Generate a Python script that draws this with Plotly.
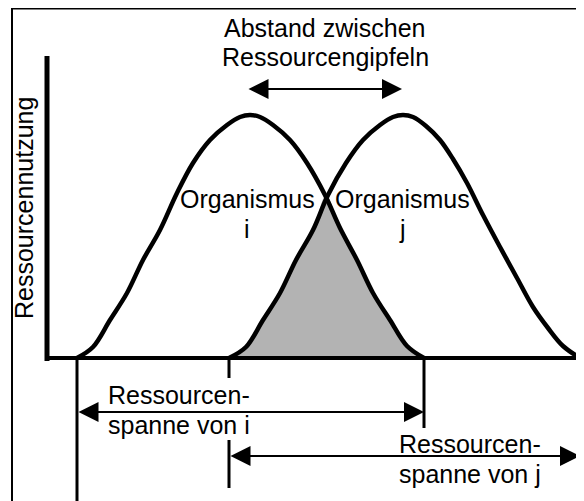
import plotly.graph_objects as go

# Resource-use curves (x = resource axis, y = usage height)
x_i = [77, 93, 110, 127, 143, 160, 177, 193, 210, 227, 240, 250, 260, 273, 290, 307, 325, 340, 357, 373, 390, 407, 424]
y_i = [0, 11, 38, 65, 98, 128, 165, 195, 218, 233, 241, 243, 241, 233, 218, 195, 163, 130, 98, 65, 38, 12, 0]

x_j = [229, 246, 263, 280, 296, 313, 328, 346, 363, 380, 393, 403, 413, 426, 440, 453, 467, 483, 500, 517, 533, 548, 563, 580]
y_j = [0, 11, 38, 65, 98, 128, 163, 195, 218, 233, 241, 243, 241, 232, 218, 199, 175, 143, 111, 80, 51, 30, 12, 0]

# where the two curves cross
x_cross = 326
y_cross = 162

FONT = dict(family="Liberation Sans, Arial, sans-serif", size=25, color="black")

# overlap region: left flank of j up to the crossing, then right flank of i
ov_x = [x for x in x_j if x < x_cross] + [x_cross] + [x for x in x_i if x > x_cross]
ov_y = [y for x, y in zip(x_j, y_j) if x < x_cross] + [y_cross] + [y for x, y in zip(x_i, y_i) if x > x_cross]

fig = go.Figure()

fig.add_trace(go.Scatter(
    x=ov_x, y=ov_y, mode="lines", fill="tozeroy", fillcolor="#b3b3b3",
    line=dict(color="rgba(0,0,0,0)", width=0, shape="spline"), hoverinfo="skip"
))
for xs, ys in [(x_i, y_i), (x_j, y_j)]:
    fig.add_trace(go.Scatter(
        x=xs, y=ys, mode="lines",
        line=dict(color="black", width=4.5, shape="spline", smoothing=1),
        hoverinfo="skip"
    ))

shapes = []
# axes
shapes.append(dict(type="line", x0=47, x1=47, y0=-3, y1=302, line=dict(color="black", width=5)))
shapes.append(dict(type="line", x0=45, x1=584, y0=0, y1=0, line=dict(color="black", width=4)))
# span markers dropping from the curve ends
thin = dict(color="black", width=3)
shapes.append(dict(type="line", x0=x_i[0], x1=x_i[0], y0=0, y1=-145, line=thin))
shapes.append(dict(type="line", x0=x_i[-1], x1=x_i[-1], y0=0, y1=-70, line=thin))
shapes.append(dict(type="line", x0=x_j[0], x1=x_j[0], y0=0, y1=-20, line=thin))
shapes.append(dict(type="line", x0=x_j[0], x1=x_j[0], y0=-82, y1=-130, line=thin))
shapes.append(dict(type="line", x0=x_j[-1], x1=x_j[-1], y0=0, y1=-129, line=thin))
# frame (top and left edges)
shapes.append(dict(type="path", path="M 12,-150 L 12,349.5 L 600,349.5",
                   line=dict(color="black", width=2)))

peak_i = x_i[y_i.index(max(y_i))]
peak_j = x_j[y_j.index(max(y_j))]

arrows = [
    (peak_i - 3, peak_j - 1, 269),
    (x_i[0], x_i[-1], -54),
    (x_j[0], x_j[-1], -98),
]
annotations = []
for xa, xb, yv in arrows:
    annotations.append(dict(
        x=xb, y=yv, ax=xa, ay=yv, xref="x", yref="y", axref="x", ayref="y",
        text="", showarrow=True, arrowside="end+start",
        arrowhead=2, startarrowhead=2, arrowsize=2, startarrowsize=2,
        arrowwidth=2, arrowcolor="black", standoff=0, startstandoff=0
    ))

texts = [
    ("Abstand zwischen", 325, 330.5, "center"),
    ("Ressourcengipfeln", 325, 301.5, "center"),
    ("Organismus", 247, 159.5, "center"),
    ("i", 247, 129.5, "center"),
    ("Organismus", 402, 159.5, "center"),
    ("j", 402, 129.5, "center"),
    ("Ressourcen-", 106, -36.5, "left"),
    ("spanne von i", 106, -66.5, "left"),
    ("Ressourcen-", 397, -85.5, "left"),
    ("spanne von j", 397, -115.5, "left"),
]
for t, x, y, anchor in texts:
    annotations.append(dict(x=x, y=y, xref="x", yref="y", text=t, showarrow=False,
                            xanchor=anchor, yanchor="middle", font=FONT))
annotations.append(dict(x=24, y=150, xref="x", yref="y", text="Ressourcennutzung",
                        showarrow=False, textangle=-90, xanchor="center", yanchor="middle",
                        font=FONT))

# the page puts the figure 8px in from the top-left corner
fig.update_layout(
    width=576, height=493,
    margin=dict(l=0, r=0, t=0, b=0),
    paper_bgcolor="white", plot_bgcolor="white",
    showlegend=False,
    xaxis=dict(range=[8, 584], visible=False, fixedrange=True),
    yaxis=dict(range=[-143, 350], visible=False, fixedrange=True),
    shapes=shapes,
    annotations=annotations,
)

fig.write_html("out.html")
